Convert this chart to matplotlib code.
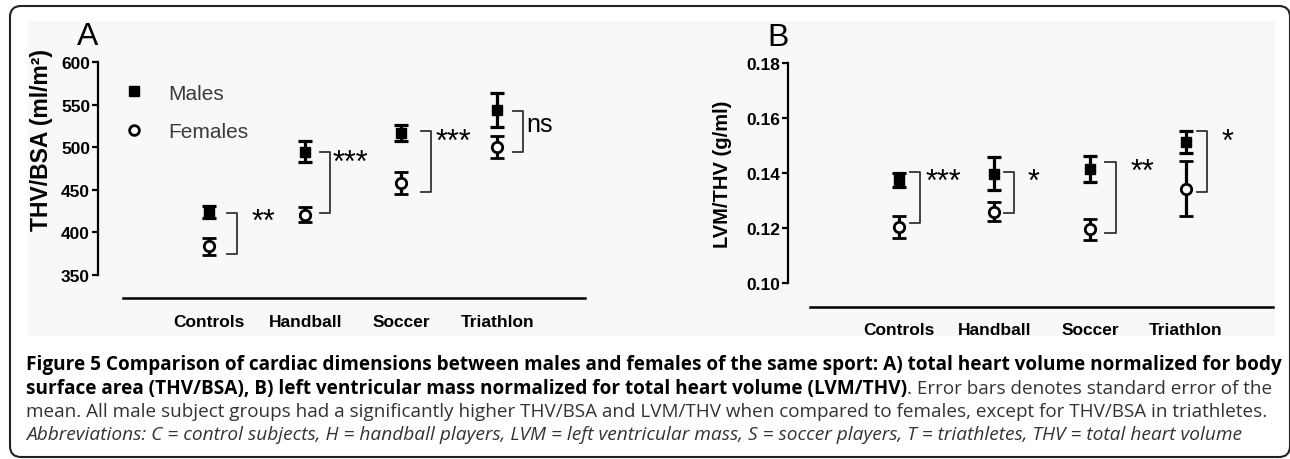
import matplotlib
matplotlib.use("Agg")
import matplotlib.pyplot as plt
from matplotlib.lines import Line2D
from matplotlib.patches import FancyBboxPatch, Rectangle
from matplotlib.transforms import IdentityTransform
import numpy as np

plt.rcParams['font.family'] = ['Liberation Sans', 'DejaVu Sans']

W, H = 1290, 460

sports = ["Controls", "Handball", "Soccer", "Triathlon"]

# Panel A: THV/BSA (ml/m2), mean and SEM
thv_males = [424, 495, 517, 544]
thv_males_se = [7.5, 12, 9, 20]
thv_females = [384, 421, 458, 500]
thv_females_se = [10, 8.5, 13, 13]
thv_bracket_top = [423, 495, 519, 543]
thv_bracket_bot = [375, 423, 447, 495]
thv_sig = ["**", "***", "***", "ns"]
thv_sig_y = [412, 482, 506, 528]

# Panel B: LVM/THV (g/ml), mean and SEM
lvm_males = [0.1376, 0.1398, 0.1415, 0.1514]
lvm_males_se = [0.0025, 0.0060, 0.0046, 0.0040]
lvm_females = [0.1204, 0.1260, 0.1196, 0.1343]
lvm_females_se = [0.0039, 0.0035, 0.0038, 0.0100]
lvm_bracket_top = [0.1403, 0.1403, 0.1439, 0.1554]
lvm_bracket_bot = [0.1219, 0.1255, 0.1182, 0.1330]
lvm_sig = ["***", "*", "**", "*"]
lvm_sig_y = [0.1367, 0.1367, 0.1403, 0.1512]

fig = plt.figure(figsize=(W / 100, H / 100), dpi=100)
fig.patch.set_facecolor("white")


def px_axes(left, top, right, bottom):
    return fig.add_axes([left / W, (H - bottom) / H, (right - left) / W, (bottom - top) / H])


# light grey image area and rounded frame
fig.add_artist(Rectangle((28, H - 337), 1247, 315, transform=IdentityTransform(),
                         facecolor="#f8f8f8", edgecolor="none", zorder=0))
fig.add_artist(FancyBboxPatch((10, 2), 1280, H - 9, boxstyle="round,pad=0,rounding_size=11",
                              transform=IdentityTransform(), facecolor="none",
                              edgecolor="#222222", linewidth=1.5, zorder=1))


def draw_panel(ax, males, males_se, females, females_se, top, bot, sig, sig_y,
               brk_off, txt_off, sig_size, line_y, line_x0):
    x = np.arange(len(sports))
    ax.errorbar(x, males, yerr=males_se, fmt="s", color="black", ms=6.5,
                elinewidth=2.3, capsize=5, capthick=2.3, zorder=3)
    ax.errorbar(x, females, yerr=females_se, fmt="o", color="black", mfc="white",
                mec="black", mew=2, ms=7.5, elinewidth=2.3, capsize=5, capthick=2.3, zorder=3)
    for i in range(len(sports)):
        x0 = x[i] + brk_off[i]
        x1 = x0 + 0.105
        ax.plot([x0, x1, x1, x0], [top[i], top[i], bot[i], bot[i]],
                color="#333333", lw=1.3, zorder=2)
        size = sig_size - 4 if sig[i] == "ns" else sig_size
        ax.text(x[i] + txt_off[i], sig_y[i], sig[i], fontsize=size,
                ha="left", va="center", color="black")

    ax.set_xlim(-1.157, 3.91)
    ax.set_facecolor("none")
    for s in ["top", "right", "bottom"]:
        ax.spines[s].set_visible(False)
    ax.spines["left"].set_linewidth(1.6)
    ax.tick_params(axis="y", length=4.5, width=1.6, pad=1, labelsize=12.5)
    for lab in ax.get_yticklabels():
        lab.set_fontweight("bold")
    ax.set_xticks(x, sports)
    ax.tick_params(axis="x", length=0, pad=28, labelsize=12.5)
    for lab in ax.get_xticklabels():
        lab.set_fontweight("bold")
    ax.plot([line_x0, 3.91], [line_y, line_y], color="black", lw=1.8,
            transform=ax.get_xaxis_transform(), clip_on=False)


# Panel A
axA = px_axes(97.7, 63.3, 585, 276)
axA.set_ylim(350, 600)
axA.set_yticks(np.arange(350, 601, 50))
draw_panel(axA, thv_males, thv_males_se, thv_females, thv_females_se,
           thv_bracket_top, thv_bracket_bot, thv_sig, thv_sig_y,
           brk_off=[0.19, 0.15, 0.20, 0.16], txt_off=[0.44, 0.29, 0.36, 0.30],
           sig_size=22, line_y=-0.1095, line_x0=-0.898)
axA.text(-0.115, 0.64, "THV/BSA (ml/m²)", transform=axA.transAxes, rotation=90,
         ha="center", va="center", fontsize=16.5, fontweight="bold")
handles = [Line2D([], [], marker="s", ls="none", color="black", ms=7.5),
           Line2D([], [], marker="o", ls="none", color="black", mfc="white", mew=2, ms=7)]
axA.legend(handles, ["Males", "Females"], loc="upper left", bbox_to_anchor=(0.0546, 0.90),
           frameon=False, fontsize=15, handlelength=0.95, handletextpad=1.15,
           labelspacing=0.95, borderpad=0, borderaxespad=0, labelcolor="#3a3a3a")
fig.text(88 / W, 1 - 37 / H, "A", fontsize=23, ha="center", va="center")

# Panel B
axB = px_axes(788, 64, 1273, 284.3)
axB.set_ylim(0.10, 0.18)
axB.set_yticks(np.arange(0.10, 0.181, 0.02))
axB.yaxis.set_major_formatter(matplotlib.ticker.FormatStrFormatter("%.2f"))
draw_panel(axB, lvm_males, lvm_males_se, lvm_females, lvm_females_se,
           lvm_bracket_top, lvm_bracket_bot, lvm_sig, lvm_sig_y,
           brk_off=[0.12, 0.10, 0.16, 0.115], txt_off=[0.28, 0.35, 0.42, 0.37],
           sig_size=22, line_y=-0.1076, line_x0=-0.925)
axB.text(-0.135, 0.5, "LVM/THV (g/ml)", transform=axB.transAxes, rotation=90,
         ha="center", va="center", fontsize=14.5, fontweight="bold")
fig.text(778 / W, 1 - 38 / H, "B", fontsize=23, ha="center", va="center")

# caption
cap = ["Open Sans", "DejaVu Sans"]
x_left = 26 / W
l1 = fig.text(x_left, 1 - 365 / H, "Figure 5 Comparison of cardiac dimensions between males and "
              "females of the same sport: A) total heart volume normalized for body",
              family=cap, fontweight="bold", fontsize=12, va="center", color="black")
l2a = fig.text(x_left, 1 - 389 / H, "surface area (THV/BSA), B) left ventricular mass normalized "
               "for total heart volume (LVM/THV)",
               family=cap, fontweight="bold", fontsize=12, va="center", color="black")
l3 = fig.text(x_left, 1 - 412 / H, "mean. All male subject groups had a significantly higher "
              "THV/BSA and LVM/THV when compared to females, except for THV/BSA in triathletes.",
              family=cap, fontsize=12, va="center", color="#333333")
l4 = fig.text(x_left, 1 - 435 / H, "Abbreviations: C = control subjects, H = handball players, "
              "LVM = left ventricular mass, S = soccer players, T = triathletes, "
              "THV = total heart volume",
              family=cap, fontstyle="italic", fontsize=12, va="center", color="#333333")


def fit(t, right_px):
    fig.canvas.draw()
    bb = t.get_window_extent(fig.canvas.get_renderer())
    t.set_fontsize(t.get_fontsize() * (right_px - bb.x0) / bb.width)


fit(l1, 1280)
l2a.set_fontsize(l1.get_fontsize())
fit(l3, 1260)
fit(l4, 1245)
fig.canvas.draw()
bb = l2a.get_window_extent(fig.canvas.get_renderer())
fig.text(bb.x1 / W, 1 - 389 / H, ". Error bars denotes standard error of the",
         family=cap, fontsize=l3.get_fontsize(), va="center", color="#333333")

fig.savefig("out.png", dpi=100)
